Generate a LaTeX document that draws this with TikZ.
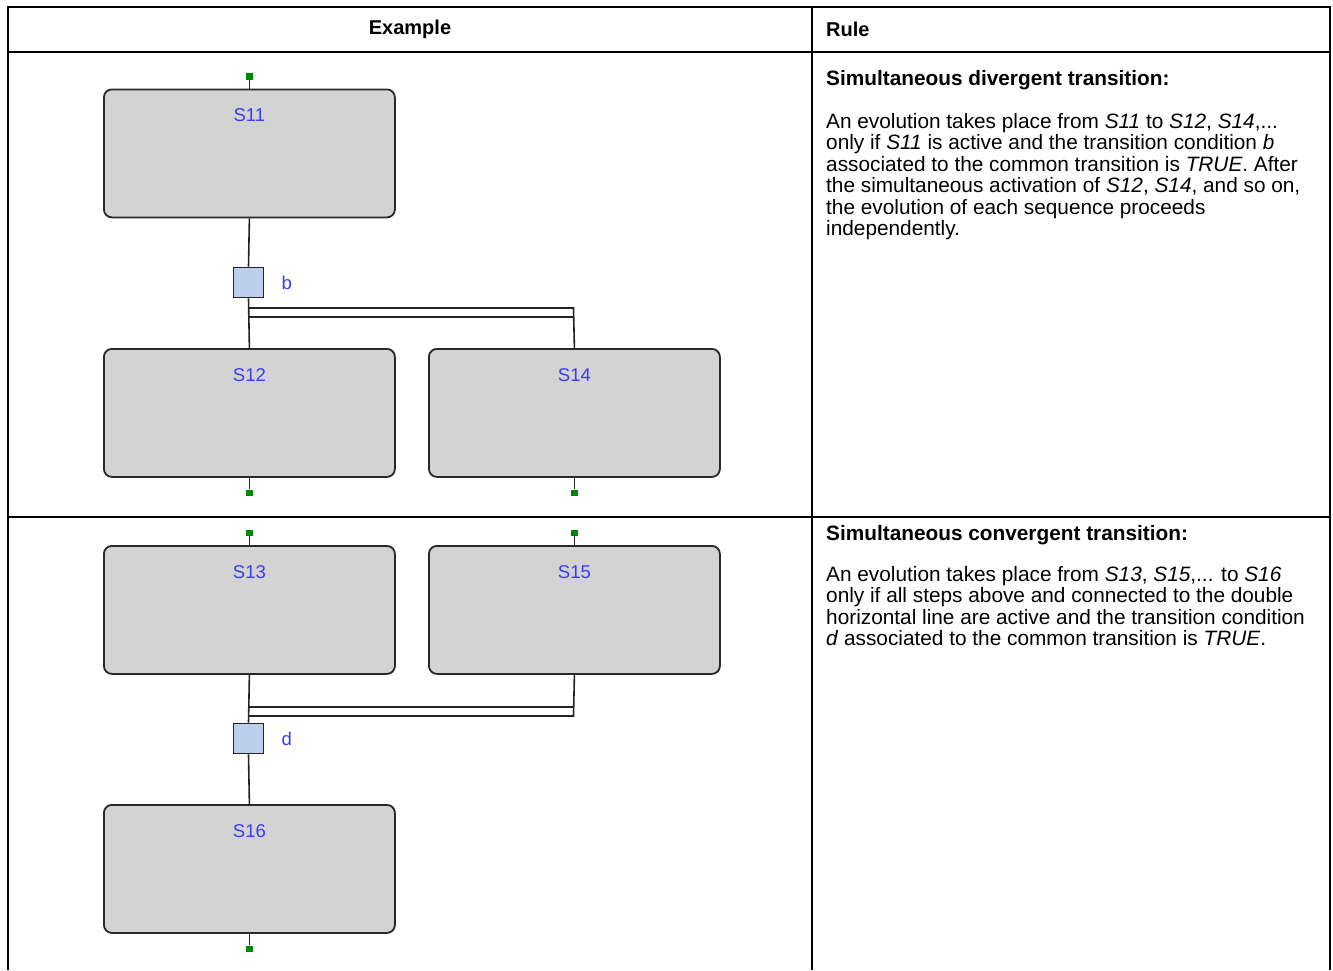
\documentclass[tikz,border=0pt]{standalone}
\usepackage{fontspec}
\setmainfont{Liberation Sans}
\usetikzlibrary{calc,positioning}
\definecolor{stepfill}{RGB}{211,211,211}
\definecolor{stepline}{RGB}{40,40,40}
\definecolor{stepname}{RGB}{60,60,245}
\definecolor{transfill}{RGB}{187,206,234}
\definecolor{linkline}{RGB}{35,35,35}
\definecolor{dotgreen}{RGB}{0,135,0}
\newcommand{\rulesize}{\fontsize{20.8}{21.5}\selectfont}
\newcommand{\sfcstep}[4]{%
  \node[stepbox,anchor=north west] (#1) at (#2,#3) {};%
  \node[stepname] (#1-name) at ($(#1.north)+(0,27)$) {#4};%
}
\newcommand{\sfctrans}[3]{%
  \node[transbox] (#1) at (248.5,#2) {};%
  \node[transname,anchor=west] (#1-name) at ($(#1.east)+(17,0)$) {#3};%
}
\newcommand{\sfcin}[1]{%
  \node[stepdot] (#1-in) at ($(#1.north)+(0,-12)$) {};%
  \draw[link] (#1-in) -- (#1.north);%
}
\newcommand{\sfcout}[1]{%
  \node[stepdot] (#1-out) at ($(#1.south)+(0,15)$) {};%
  \draw[link] (#1.south) -- (#1-out);%
}

\begin{document}
\begin{tikzpicture}[x=1pt,y=-1pt,
  stepbox/.style={draw=stepline,fill=stepfill,line width=1.8pt,rounded corners=8pt,
    minimum width=291pt,minimum height=128pt,inner sep=0pt},
  stepname/.style={text=stepname,font=\fontsize{18.5}{18.5}\selectfont,inner sep=0pt},
  transbox/.style={draw=linkline,fill=transfill,line width=1.9pt,minimum size=30pt,inner sep=0pt},
  transname/.style={text=stepname,font=\fontsize{18.5}{18.5}\selectfont,inner sep=0pt},
  stepdot/.style={fill=dotgreen,minimum size=6.5pt,inner sep=0pt},
  link/.style={draw=linkline,line width=1.6pt},
  tableline/.style={draw=black,line width=2pt},
  headtext/.style={font=\fontsize{20}{20}\selectfont\bfseries,inner sep=0pt},
  ruletext/.style={font=\rulesize,align=left,inner sep=0pt}]
  \fill[white] (0,0) rectangle (1333,970);
  \useasboundingbox (0,0) rectangle (1333,970);
  % table
  \draw[tableline] (8,970) -- (8,6.5) -- (1330,6.5) -- (1330,970);
  \draw[tableline] (8,52) -- (1330,52);
  \draw[tableline] (8,517) -- (1330,517);
  \draw[tableline] (812,6.5) -- (812,970);
  \node[headtext] (head-ex) at (410,29) {Example};
  \node[headtext,anchor=west] (head-rule) at (826,29) {Rule};

  % divergent
  \sfcstep{s11}{103}{88.5}{S11}
  \sfctrans{tb}{282.5}{b}
  \sfcstep{s12}{103}{348}{S12}
  \sfcstep{s14}{428}{348}{S14}
  \coordinate (bar1a) at (248.5,308);
  \coordinate (bar1b) at (573.5,308);
  \coordinate (bar1c) at (248.5,317);
  \coordinate (bar1d) at (573.5,317);
  \draw[link] (s11.south) -- (tb.north);
  \draw[link] (tb.south) -- (s12.north);
  \draw[link] (bar1a) -- (bar1b) -- (s14.north);
  \draw[link] (bar1c) -- (bar1d);
  \sfcin{s11}
  \sfcout{s12}
  \sfcout{s14}

  % convergent
  \sfcstep{s13}{103}{545}{S13}
  \sfcstep{s15}{428}{545}{S15}
  \sfctrans{td}{738.5}{d}
  \sfcstep{s16}{103}{804}{S16}
  \coordinate (bar2a) at (248.5,707);
  \coordinate (bar2b) at (573.5,707);
  \coordinate (bar2c) at (248.5,716);
  \coordinate (bar2d) at (573.5,716);
  \draw[link] (s13.south) -- (td.north);
  \draw[link] (td.south) -- (s16.north);
  \draw[link] (s15.south) -- (bar2d) -- (bar2c);
  \draw[link] (bar2a) -- (bar2b);
  \sfcin{s13}
  \sfcin{s15}
  \sfcout{s16}

  % rules (base = baseline of the last line)
  \node[ruletext,anchor=base west,font=\rulesize\bfseries] (rule1-title) at (826,85)
    {Simultaneous divergent transition:};
  \node[ruletext,anchor=base west] (rule1-text) at (826,235.5)
    {An evolution takes place from \textit{S11} to \textit{S12}, \textit{S14},...\\
     only if \textit{S11} is active and the transition condition \textit{b}\\
     associated to the common transition is \textit{TRUE}. After\\
     the simultaneous activation of \textit{S12}, \textit{S14}, and so on,\\
     the evolution of each sequence proceeds\\
     independently.};
  \node[ruletext,anchor=base west,font=\rulesize\bfseries] (rule2-title) at (826,540)
    {Simultaneous convergent transition:};
  \node[ruletext,anchor=base west] (rule2-text) at (826,645.5)
    {An evolution takes place from \textit{S13}, \textit{S15},... to \textit{S16}\\
     only if all steps above and connected to the double\\
     horizontal line are active and the transition condition\\
     \textit{d} associated to the common transition is \textit{TRUE}.};
\end{tikzpicture}
\end{document}
